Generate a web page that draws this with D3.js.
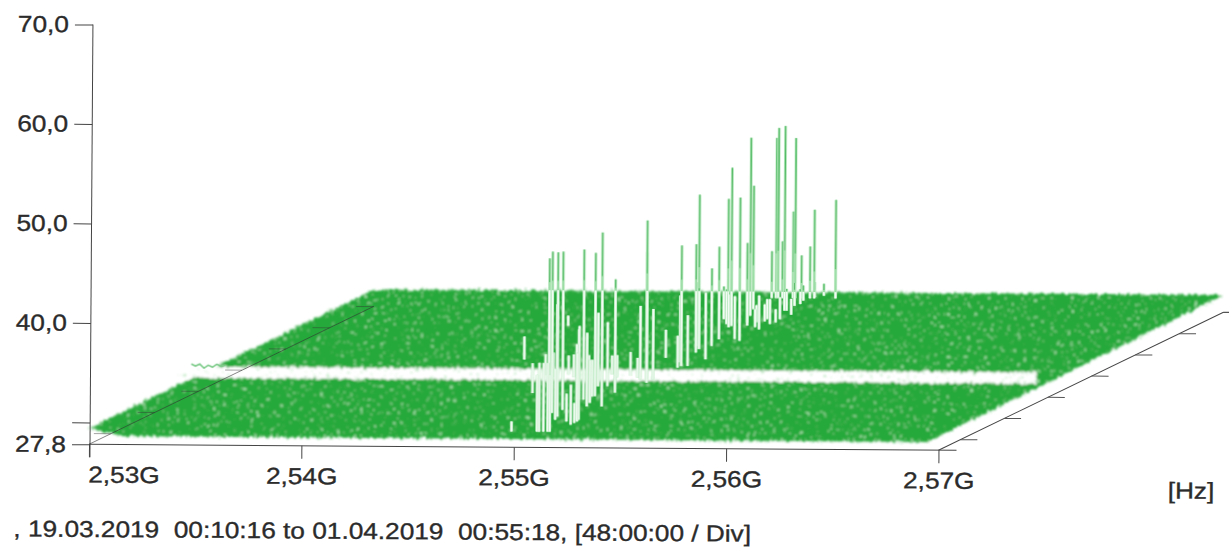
<!DOCTYPE html>
<html>
<head>
<meta charset="utf-8">
<script src="https://cdnjs.cloudflare.com/ajax/libs/d3/7.8.5/d3.min.js"></script>
<style>
  html, body { margin: 0; padding: 0; background: #fff; }
  svg { display: block; }
  text { font-family: "Liberation Sans", Arial, sans-serif; fill: #2b2b2b; stroke: #2b2b2b; stroke-width: 0.35px; font-size: 23px; }
  .domain, .tick line { stroke: #444; stroke-width: 1; }
</style>
</head>
<body>
<div class="root"></div>
<script>
// frequency in MHz, time in hours since sweep start, level in dBm
var freqTicks = [2530, 2540, 2550, 2560, 2570];
var freqLabels = ['2,53G', '2,54G', '2,55G', '2,56G', '2,57G'];
var levelTicks = [27.8, 30, 40, 50, 60, 70];
var levelLabels = ['27,8', '', '40,0', '50,0', '60,0', '70,0'];
var timeTicks = [24, 72, 120, 168, 216, 264, 312];
var timeEnd = 312.75;

// outline of the noise floor, walked round from the front left corner
var floorFreq = [2530, 2530, 2570, 2569.5, 2531.6];
var floorHour = [0, 312.75, 312.75, 0, 0];
var floorLevel = [29.4, 29.5, 29.55, 28.6, 28.65];

// the hours with no data, cut out of the floor
var gapFreq = [2529, 2569.6, 2568.5, 2529];
var gapHour = [117, 117, 142, 142];
var gapLevel = [29.3, 29.3, 29.3, 29.3];

// thin leftover row at the low end of the gap
var strayFreq = [2530, 2530.2, 2530.4, 2530.6, 2530.8, 2531, 2531.2, 2531.4, 2531.6];
var strayLevel = [30.9, 30.7, 30.9, 30.5, 30.8, 30.6, 30.9, 30.7, 30.8];
var strayHour = 112;

var spikeFreq = [2550.4, 2549.9, 2550.5, 2550.1, 2551.1, 2551.3, 2551.5, 2550.1, 2549.9, 2550.3, 2551.6, 2549.9, 2550.9,
  2551.4, 2551.1, 2550.8, 2551.4, 2551.4, 2549.9, 2551.4, 2551.7, 2550.8, 2550.6, 2550.9, 2550.6, 2549.4, 2549.9,
  2551.7, 2551.3, 2550.6, 2549.8, 2549.3, 2549.1, 2549.3, 2549.4, 2549.7, 2549.6, 2550.1, 2550.2, 2550.5, 2550.9,
  2551.1, 2552.1, 2550.7, 2550.9, 2551.6, 2551.0, 2550.9, 2550.8, 2551.0, 2551.3, 2543.5, 2547.1, 2542.3, 2549.8,
  2550.6, 2549.5, 2550.7, 2551.9, 2550.7, 2551.4, 2551.9, 2550.9, 2551.9, 2548.9, 2550.2, 2550.3,
  2551.8, 2551.7, 2550.2, 2550.4, 2551.9, 2550.3, 2551.0, 2551.6,
  2549.5, 2549.9, 2550.6, 2551.0,
  2551.5, 2551.5, 2551.5, 2551.6, 2551.0, 2551.1, 2551.0, 2550.9,
  2546.0, 2546.5, 2547.0, 2547.5, 2548.0, 2548.5, 2549.0, 2549.5, 2550.0, 2550.5];
var spikeHour = [29, 44, 36, 51, 2, 2, 2, 74, 74, 82, 59, 105, 90,
  113, 120, 120, 120, 151, 169, 147, 151, 181, 189, 196, 211, 249, 241,
  208, 212, 242, 264, 279, 304, 304, 304, 304, 304, 304, 304, 304, 304,
  304, 304, 250, 257, 250, 276, 287, 299, 307, 310, 163, 88, 239, 2,
  97, 104, 67, 22, 29, 25, 25, 59, 166, 256, 196, 249,
  29, 29, 81, 74, 18, 40, 2, 2,
  245, 238, 189, 159,
  234, 246, 257, 267, 252, 239, 291, 276,
  128, 125, 130, 124, 129, 126, 131, 125, 128, 124];
var spikeLevel = [45.5, 45.5, 45.8, 45.2, 36.2, 36.2, 36.2, 44.4, 36.7, 43.7, 46.8, 35.7, 40.7,
  45.6, 42.1, 36.7, 36.4, 41.4, 32.1, 32.5, 34.4, 40.2, 44.8, 37.1, 38.6, 41.7, 45.2,
  43.7, 33.6, 37.6, 47.2, 41.7, 34.0, 45.4, 46.4, 46.6, 35.0, 38.0, 45.4, 33.6, 34.5,
  38.2, 39.2, 31.0, 31.3, 30.6, 31.5, 31.6, 30.8, 30.8, 30.5, 31.6, 32.3, 30.3, 30.3,
  34.7, 36.7, 33.6, 31.3, 34.4, 32.1, 36.2, 36.7, 36.0, 32.6, 35.7, 36.4,
  38.4, 36.9, 33.0, 32.8, 33.3, 40.4, 35.0, 35.0,
  32.8, 32.6, 35.4, 36.0,
  32.7, 31.8, 31.5, 30.9, 31.0, 31.1, 30.8, 31.3,
  31.4, 31.7, 31.2, 31.6, 31.3, 31.8, 31.2, 31.5, 31.7, 31.3];
var spikeBase = 29.3;

var xLabel = '[Hz]';
var footer = ', 19.03.2019  00:10:16 to 01.04.2019  00:55:18, [48:00:00 / Div]';

function runChart() {
  var w = 1229, h = 547;

  var x = d3.scaleLinear().domain([2530, 2570]).range([89, 938.5]);
  var y = d3.scaleLinear().domain([27.8, 70]).range([444.3, 24.5]);
  var depthX = d3.scaleLinear().domain([0, timeEnd]).range([0, 284]);
  var depthY = d3.scaleLinear().domain([0, timeEnd]).range([0, 140]);

  function px(f, t) { return x(f) + depthX(t); }
  function py(t, l) { return y(l) - depthY(t); }

  var svg = d3.select('.root').append('svg')
    .attr('width', w)
    .attr('height', h)
    .style('background', '#fff');

  var defs = svg.append('defs');

  // grainy surface of the noise floor
  var grain = defs.append('filter').attr('id', 'grain')
    .attr('x', '-2%').attr('y', '-5%').attr('width', '104%').attr('height', '110%');
  grain.append('feTurbulence').attr('type', 'fractalNoise').attr('baseFrequency', 0.3)
    .attr('numOctaves', 2).attr('seed', 7).attr('result', 'noise');
  grain.append('feDisplacementMap').attr('in', 'SourceGraphic').attr('in2', 'noise')
    .attr('scale', 6).attr('xChannelSelector', 'R').attr('yChannelSelector', 'G').attr('result', 'rough');
  grain.append('feColorMatrix').attr('in', 'noise').attr('type', 'matrix')
    .attr('values', '0 0 0 0 0  0 0 0 0 0  0 0 0 0 0  14 0 0 0 -9.4').attr('result', 'dots');
  grain.append('feFlood').attr('flood-color', '#a8e4b0').attr('result', 'pale');
  grain.append('feComposite').attr('in', 'pale').attr('in2', 'dots').attr('operator', 'in').attr('result', 'paleDots');
  grain.append('feComposite').attr('in', 'paleDots').attr('in2', 'rough').attr('operator', 'in').attr('result', 'speck');
  var merge = grain.append('feMerge').attr('result', 'merged');
  merge.append('feMergeNode').attr('in', 'rough');
  merge.append('feMergeNode').attr('in', 'speck');
  grain.append('feGaussianBlur').attr('in', 'merged').attr('stdDeviation', 0.8);

  var soft = defs.append('filter').attr('id', 'soft');
  soft.append('feGaussianBlur').attr('stdDeviation', 0.6);

  // the scan sits slightly crooked on the page
  var chart = svg.append('g').attr('transform', 'rotate(0.4,90,445)');

  var outline = d3.line().x(function(d) { return d[0]; }).y(function(d) { return d[1]; });

  var floorPts = floorFreq.map(function(f, i) { return [px(f, floorHour[i]), py(floorHour[i], floorLevel[i])]; });
  var gapPts = gapFreq.map(function(f, i) { return [px(f, gapHour[i]), py(gapHour[i], gapLevel[i])]; });
  var strayPts = strayFreq.map(function(f, i) { return [px(f, strayHour), py(strayHour, strayLevel[i])]; });

  var floorGroup = chart.append('g').attr('filter', 'url(#grain)');
  floorGroup.append('path').attr('d', outline(floorPts) + 'Z').attr('fill', '#28a93a');
  floorGroup.append('path').attr('d', outline(gapPts) + 'Z').attr('fill', '#fff');
  chart.append('path').attr('d', outline(strayPts)).attr('fill', 'none')
    .attr('stroke', '#7ccb88').attr('stroke-width', 1.6).attr('filter', 'url(#soft)');

  // spikes, far ones first so nearer sweeps cover them
  var spikes = spikeFreq.map(function(f, i) { return { f: f, t: spikeHour[i], l: spikeLevel[i] }; })
    .sort(function(a, b) { return b.t - a.t; });

  var spikeG = chart.append('g').attr('filter', 'url(#soft)');
  var spike = spikeG.selectAll('g').data(spikes).enter().append('g');

  // level at which a spike leaves the floor behind it and stands against the white page
  function crossLevel(d) { return y.invert(287 + depthY(d.t)); }

  function seg(sel, fromLevel, toLevel) {
    sel.attr('x1', function(d) { return px(d.f, d.t); })
      .attr('x2', function(d) { return px(d.f, d.t); })
      .attr('y1', function(d) { return py(d.t, fromLevel(d)); })
      .attr('y2', function(d) { return py(d.t, toLevel(d)); });
  }
  function base() { return spikeBase; }
  function peak(d) { return d.l; }

  spike.append('line').call(seg, base, peak)
    .attr('stroke', '#c6eecb').attr('stroke-width', 3);
  spike.append('line').call(seg, base, peak)
    .attr('stroke', '#9adca4').attr('stroke-width', 1.9);
  spike.append('line').call(seg, base, function(d) { return Math.min(d.l, crossLevel(d)); })
    .attr('stroke', '#f4fcf5').attr('stroke-width', 1.7);
  spike.filter(function(d) { return d.l > crossLevel(d); }).append('line')
    .call(seg, function(d) { var c = crossLevel(d); return c + (d.l - c) * 0.25; }, peak)
    .attr('stroke', '#4fb962').attr('stroke-width', 1.1);

  // level axis
  var yAxis = d3.axisLeft(y).tickValues(levelTicks).tickSize(18).tickPadding(6)
    .tickFormat(function(d, i) { return levelLabels[i]; });
  var yG = chart.append('g').attr('transform', 'translate(90,0)').call(yAxis);
  yG.select('.domain').remove();
  yG.append('line').attr('y1', y(70)).attr('y2', y(27.8) + 13).attr('stroke', '#444');
  yG.selectAll('text').style('font-size', '23px').attr('fill', null);

  // frequency axis
  var xAxis = d3.axisBottom(x).tickValues(freqTicks).tickSize(13).tickPadding(9)
    .tickFormat(function(d, i) { return freqLabels[i]; });
  var xG = chart.append('g').attr('transform', 'translate(0,' + y(27.8) + ')').call(xAxis);
  xG.select('.domain').remove();
  xG.append('line').attr('x1', x(2530)).attr('x2', x(2570) + 18).attr('stroke', '#444');
  xG.selectAll('text').style('font-size', '23px').attr('fill', null);
  xG.select('.tick text').attr('text-anchor', 'start').attr('dx', -1);

  // time axis: right wall
  chart.append('line')
    .attr('x1', x(2570)).attr('y1', y(27.8))
    .attr('x2', px(2570, timeEnd)).attr('y2', py(timeEnd, 27.8))
    .attr('stroke', '#444');
  chart.selectAll('.tRight').data(timeTicks).enter().append('line')
    .attr('class', 'tRight')
    .attr('x1', function(d) { return px(2570, d); })
    .attr('x2', function(d) { return px(2570, d) + 17; })
    .attr('y1', function(d) { return py(d, 27.8); })
    .attr('y2', function(d) { return py(d, 27.8); })
    .attr('stroke', '#555');
  chart.append('line')
    .attr('x1', px(2570, timeEnd)).attr('x2', px(2570, timeEnd) + 9)
    .attr('y1', py(timeEnd, 27.8)).attr('y2', py(timeEnd, 27.8))
    .attr('stroke', '#555');

  // time axis: left wall, seen through the floor
  chart.append('line')
    .attr('x1', x(2530)).attr('y1', y(27.8))
    .attr('x2', px(2530, timeEnd)).attr('y2', py(timeEnd, 27.8))
    .attr('stroke', '#333').attr('stroke-opacity', 0.75).attr('stroke-width', 0.8);
  chart.selectAll('.tLeft').data(timeTicks).enter().append('line')
    .attr('class', 'tLeft')
    .attr('x1', function(d) { return px(2530, d); })
    .attr('x2', function(d) { return px(2530, d) - 17; })
    .attr('y1', function(d) { return py(d, 27.8); })
    .attr('y2', function(d) { return py(d, 27.8); })
    .attr('stroke', '#333').attr('stroke-opacity', 0.55).attr('stroke-width', 0.8);

  chart.append('text')
    .attr('x', 1168).attr('y', 491)
    .text(xLabel);

  chart.append('text')
    .attr('x', 14).attr('y', 537)
    .attr('xml:space', 'preserve')
    .style('white-space', 'pre')
    .text(footer);

  // the print is wider than the font: stretch every label the same way
  svg.selectAll('text').each(function() {
    var len = this.getComputedTextLength();
    if (len > 0) {
      this.setAttribute('textLength', len * 1.14);
      this.setAttribute('lengthAdjust', 'spacingAndGlyphs');
    }
  });
}

window.onload = function() {
  runChart();
};
</script>
</body>
</html>
